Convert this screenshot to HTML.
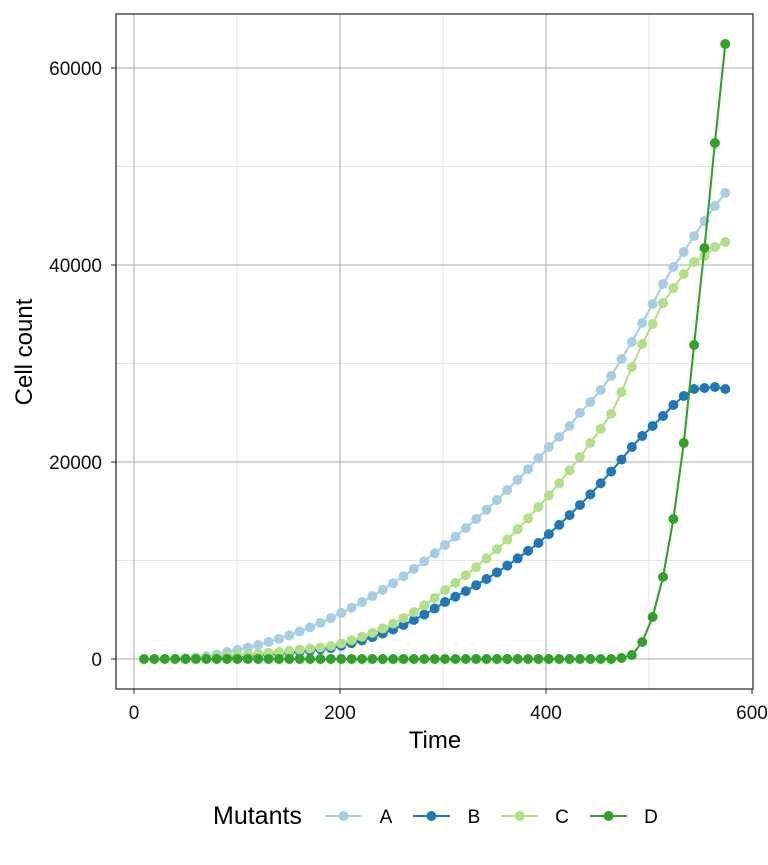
<!DOCTYPE html>
<html><head><meta charset="utf-8"><style>
html,body{margin:0;padding:0;background:#fff;}
svg{display:block;font-family:"Liberation Sans",Arial,sans-serif;}
</style></head><body>
<svg id="s" width="768" height="865" viewBox="0 0 768 865" xmlns="http://www.w3.org/2000/svg">
<rect x="0" y="0" width="768" height="865" fill="#fff"/>
<g stroke="#dcdcdc" stroke-width="0.8">
<line x1="116" x2="753" y1="166.5" y2="166.5"/><line x1="116" x2="753" y1="363.5" y2="363.5"/><line x1="116" x2="753" y1="560.5" y2="560.5"/>
<line y1="14" y2="689" x1="237" x2="237"/><line y1="14" y2="689" x1="443" x2="443"/><line y1="14" y2="689" x1="649" x2="649"/>
</g>
<g stroke="#aaaaaa" stroke-width="1">
<line x1="116" x2="753" y1="68" y2="68"/><line x1="116" x2="753" y1="265" y2="265"/><line x1="116" x2="753" y1="462" y2="462"/><line x1="116" x2="753" y1="659" y2="659"/>
<line y1="14" y2="689" x1="134" x2="134"/><line y1="14" y2="689" x1="340" x2="340"/><line y1="14" y2="689" x1="546" x2="546"/>
</g>
<g id="series"></g>
<rect x="116" y="14" width="637" height="675" fill="none" stroke="#222" stroke-width="1.2"/>
<g stroke="#222" stroke-width="1">
<line x1="111" x2="116" y1="68" y2="68"/><line x1="111" x2="116" y1="265" y2="265"/><line x1="111" x2="116" y1="462" y2="462"/><line x1="111" x2="116" y1="659" y2="659"/>
<line y1="689" y2="694" x1="134" x2="134"/><line y1="689" y2="694" x1="340" x2="340"/><line y1="689" y2="694" x1="546" x2="546"/><line y1="689" y2="694" x1="752" x2="752"/>
</g>
<g font-size="19" fill="#111" text-anchor="end">
<text x="102" y="75">60000</text><text x="102" y="272">40000</text><text x="102" y="469">20000</text><text x="102" y="666">0</text>
</g>
<g font-size="19" fill="#111" text-anchor="middle">
<text x="134" y="719">0</text><text x="340" y="719">200</text><text x="546" y="719">400</text><text x="752" y="719">600</text>
</g>
<text x="435" y="748" font-size="24" text-anchor="middle" fill="#000">Time</text>
<text transform="translate(32,352) rotate(-90)" font-size="24" text-anchor="middle" fill="#000">Cell count</text>
<text x="213" y="824" font-size="25" fill="#000">Mutants</text>
<g id="legend"></g>
</svg>
<script>
var NS="http://www.w3.org/2000/svg";
function X(i){return 144+10.38*i;}
function T(i){return (X(i)-134)/1.03;}
function interp(keys,i){
  var lt=Math.log(T(i));
  var k=0; while(k<keys.length-2 && i>keys[k+1][0]) k++;
  var a=keys[k],b=keys[k+1];
  var la=Math.log(T(a[0])),lb=Math.log(T(b[0]));
  var f=(lt-la)/(lb-la);
  return Math.exp(Math.log(a[1])*(1-f)+Math.log(b[1])*f);
}
var Ay={39:447,40:437,41:426,42:413,43:402,44:390,45:376,46:359,47:342,48:323,49:304,50:284,51:267,52:252,53:236,54:221,55:206,56:193};
var By={47:447,48:436,49:426,50:416,51:405,52:396,53:389,54:388,55:387,56:389};
var Cy={43:443,44:429,45:414,46:392,47:367,48:344,49:324,50:303,51:288,52:274,53:262,54:256,55:247,56:242};
var Dy={46:658,47:655,48:642,49:617,50:577,51:519,52:443,53:345,54:248,55:143,56:44};
function ser(map,keys,start){var p=[];for(var i=start;i<=56;i++){var y;if(map[i]!==undefined)y=map[i];else y=659-interp(keys,i);p.push([X(i),y]);}return p;}
var A=ser(Ay,[[4,0.8],[8,7],[12,17],[19,46],[29,114],[39,212]],4);
var B=ser(By,[[4,0.3],[8,2],[18,11],[29,57],[38,116],[47,212]],4);
var C=ser(Cy,[[4,0.4],[8,3],[18,13],[29,69],[38,152],[43,216]],4);
var D=[];for(var i=0;i<=56;i++)D.push([X(i),Dy[i]!==undefined?Dy[i]:659]);
var g=document.getElementById("series");
function draw(pts,col){
  var pl=document.createElementNS(NS,"polyline");
  pl.setAttribute("points",pts.map(function(p){return p[0].toFixed(1)+","+p[1].toFixed(1)}).join(" "));
  pl.setAttribute("fill","none");pl.setAttribute("stroke",col);pl.setAttribute("stroke-width","2.1");g.appendChild(pl);
  pts.forEach(function(p){var c=document.createElementNS(NS,"circle");c.setAttribute("cx",p[0]);c.setAttribute("cy",p[1]);c.setAttribute("r","5");c.setAttribute("fill",col);g.appendChild(c);});
}
draw(A,"#a6cee3");draw(B,"#1f78b4");draw(C,"#b2df8a");draw(D,"#33a02c");
var lg=document.getElementById("legend");
[["A","#a6cee3",325],["B","#1f78b4",413],["C","#b2df8a",501],["D","#33a02c",590]].forEach(function(e){
  var l=document.createElementNS(NS,"line");l.setAttribute("x1",e[2]);l.setAttribute("x2",e[2]+37);l.setAttribute("y1",816);l.setAttribute("y2",816);l.setAttribute("stroke",e[1]);l.setAttribute("stroke-width","2.1");lg.appendChild(l);
  var c=document.createElementNS(NS,"circle");c.setAttribute("cx",e[2]+18.5);c.setAttribute("cy",816);c.setAttribute("r","5");c.setAttribute("fill",e[1]);lg.appendChild(c);
  var t=document.createElementNS(NS,"text");t.setAttribute("x",e[2]+61);t.setAttribute("y",823);t.setAttribute("font-size","19");t.setAttribute("text-anchor","middle");t.textContent=e[0];lg.appendChild(t);
});
</script>
</body></html>
